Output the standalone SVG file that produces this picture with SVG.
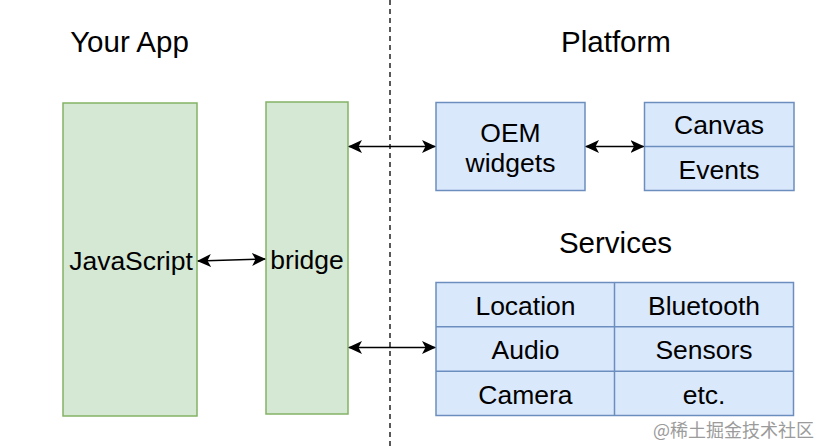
<svg xmlns="http://www.w3.org/2000/svg" width="822" height="446" viewBox="0 0 822 446">
<style>
text{font-family:"Liberation Sans",Arial,Helvetica,sans-serif;fill:#000;text-anchor:middle}
.title{font-size:29.5px}
.lbl{font-size:26.5px}
.green{fill:#d5e8d4;stroke:#82b366;stroke-width:1.5}
.blue{fill:#dae8fc;stroke:#6c8ebf;stroke-width:1.5}
.line{stroke:#6c8ebf;stroke-width:1.5;fill:none}
.conn{stroke:#000;stroke-width:1.6;fill:none;marker-start:url(#ah);marker-end:url(#ah)}
.wm{font-family:"Noto Sans CJK SC","Liberation Sans",sans-serif;font-size:18px;fill:#8a8a8a;text-anchor:start;opacity:0.85}
</style>
<defs>
<marker id="ah" viewBox="0 0 14 14" refX="13" refY="7" markerWidth="14" markerHeight="14" markerUnits="userSpaceOnUse" orient="auto-start-reverse">
<path d="M0,0.5 L14,7 L0,13.5 L3.5,7 Z" fill="#000"/>
</marker>
</defs>
<rect width="822" height="446" fill="#fff"/>
<line x1="390" y1="0" x2="390" y2="446" stroke="#000" stroke-width="1.3" stroke-dasharray="5 4"/>
<text class="title" x="129.5" y="52">Your App</text>
<text class="title" x="616" y="52">Platform</text>
<text class="title" x="615.5" y="253">Services</text>
<g id="javascript">
<rect class="green" x="63" y="103" width="134" height="313"/>
<text class="lbl" x="131" y="270">JavaScript</text>
</g>
<g id="bridge">
<rect class="green" x="266" y="102" width="82" height="312"/>
<text class="lbl" x="307" y="269">bridge</text>
</g>
<g id="oem-widgets">
<rect class="blue" x="436" y="102.5" width="149" height="88"/>
<text class="lbl" x="510.5" y="142">OEM</text>
<text class="lbl" x="510.5" y="172">widgets</text>
</g>
<g id="canvas-events">
<rect class="blue" x="644.5" y="102.5" width="149.5" height="88"/>
<line class="line" x1="644.5" y1="146.5" x2="794" y2="146.5"/>
<text class="lbl" x="719" y="134">Canvas</text>
<text class="lbl" x="719" y="179">Events</text>
</g>
<g id="services">
<rect class="blue" x="436" y="282.5" width="357.5" height="133"/>
<line class="line" x1="614.5" y1="282.5" x2="614.5" y2="415.5"/>
<line class="line" x1="436" y1="326.8" x2="793.5" y2="326.8"/>
<line class="line" x1="436" y1="371.2" x2="793.5" y2="371.2"/>
<text class="lbl" x="525.5" y="315">Location</text>
<text class="lbl" x="704" y="315">Bluetooth</text>
<text class="lbl" x="525.5" y="359">Audio</text>
<text class="lbl" x="704" y="359">Sensors</text>
<text class="lbl" x="525.5" y="404">Camera</text>
<text class="lbl" x="704" y="404">etc.</text>
</g>
<g id="connectors">
<line class="conn" x1="198" y1="261" x2="265" y2="259"/>
<line class="conn" x1="349" y1="146.5" x2="435" y2="146.5"/>
<line class="conn" x1="586" y1="146.5" x2="643.5" y2="146.5"/>
<line class="conn" x1="349" y1="347.5" x2="435" y2="347.5"/>
</g>
<text class="wm" x="653" y="437">@稀土掘金技术社区</text>
</svg>
